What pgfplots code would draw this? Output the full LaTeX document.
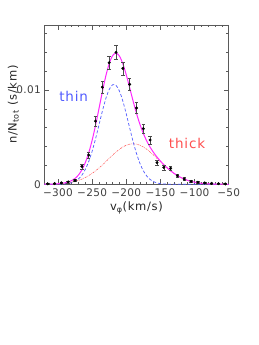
\documentclass[border=0pt]{standalone}
\usepackage{fontspec}
\setmainfont{DejaVu Sans}
\newfontfamily\labfont[LetterSpace=6]{DejaVu Sans}
\newfontfamily\tickfont[LetterSpace=3]{DejaVu Sans}
\usepackage{pgfplots}
\usepackage{pgfplotstable}
\pgfplotsset{compat=1.18}

\definecolor{magentaL}{RGB}{255,40,255}
\definecolor{thinblue}{RGB}{80,90,255}
\definecolor{thickred}{RGB}{255,80,80}
\definecolor{axisgray}{RGB}{90,90,90}

\pgfplotstableread{
x thin thick total
-320 0 0.000009 0.000009
-310 0.000001 0.0000224 0.0000234
-300 0.0000074 0.0000518 0.0000592
-290 0.000039 0.0001115 0.0001505
-285 0.000082 0.000159 0.000241
-280 0.000166 0.000223 0.000389
-275 0.000316 0.000307 0.000623
-270 0.000569 0.000415 0.000984
-265 0.000972 0.000551 0.001523
-260 0.001573 0.000718 0.002291
-255 0.00241 0.000919 0.003329
-250 0.003502 0.001155 0.004657
-245 0.004818 0.001425 0.006243
-240 0.00628 0.001726 0.008006
-235 0.007755 0.002052 0.009807
-230 0.00907 0.002397 0.011467
-225 0.010053 0.002749 0.012802
-220 0.010554 0.003095 0.013649
-215 0.010497 0.003422 0.013919
-210 0.009891 0.003716 0.013607
-205 0.008829 0.003961 0.01279
-200 0.007467 0.004146 0.011613
-195 0.005982 0.004261 0.010243
-190 0.00454 0.0043 0.00884
-185 0.003264 0.004261 0.007525
-180 0.002224 0.004146 0.00637
-175 0.001434 0.003961 0.005395
-170 0.000877 0.003716 0.004593
-165 0.000508 0.003422 0.00393
-160 0.000278 0.003095 0.003373
-155 0.000145 0.002749 0.002894
-150 0.0000713 0.002397 0.002468
-145 0.0000333 0.002052 0.002085
-140 0.0000147 0.001726 0.001741
-135 0.000006 0.001425 0.001431
-130 0.0000024 0.001155 0.001157
-125 0.0000009 0.000919 0.00092
-120 0 0.000718 0.000718
-115 0 0.000551 0.000551
-110 0 0.000415 0.000415
-105 0 0.000307 0.000307
-100 0 0.000223 0.000223
-90 0 0.0001115 0.0001115
-80 0 0.0000518 0.0000518
-70 0 0.0000224 0.0000224
-60 0 0.000009 0.000009
-50 0 0.0000034 0.0000034
}\curves

\pgfplotstableread{
x y e
-315 0.00005 0.00004
-305 0.00008 0.00006
-295 0.00015 0.00008
-285 0.00025 0.0001
-275 0.0004 0.00012
-265 0.0019 0.00027
-255 0.0031 0.00035
-245 0.0067 0.0005
-235 0.0103 0.00063
-225 0.0129 0.0007
-215 0.0140 0.00073
-205 0.0123 0.00069
-195 0.0106 0.00064
-185 0.0081 0.00056
-175 0.0059 0.00048
-165 0.0047 0.00043
-155 0.0023 0.0003
-145 0.0018 0.00026
-135 0.0017 0.00026
-125 0.0009 0.00019
-115 0.00056 0.00015
-105 0.0003 0.00011
-95 0.00021 0.00009
-85 0.00014 0.00007
-75 0.0001 0.00006
-65 0.00007 0.00005
-55 0.00004 0.00004
}\points

\begin{document}
\begin{tikzpicture}
\useasboundingbox (-44.3pt,-160.7pt) rectangle (214.7pt,184.3pt);
\begin{axis}[
  at={(0pt,0pt)}, anchor=south west,
  scale only axis, width=184.4pt, height=159.3pt,
  xmin=-320, xmax=-50, ymin=0, ymax=0.0169,
  xtick={-300,-250,-200,-150,-100,-50},
  xticklabels={−300,−250,−200,−150,−100,−50},
  minor x tick num=4,
  ytick={0,0.01}, yticklabels={0,0.01},
  minor ytick={0.002,0.004,0.006,0.008,0.012,0.014,0.016},
  scaled y ticks=false,
  tick align=inside,
  major tick length=5pt, minor tick length=2.5pt,
  axis line style={axisgray, line width=0.6pt},
  every tick/.style={axisgray, line width=0.5pt},
  ticklabel style={font=\tickfont\fontsize{10.5}{12}\selectfont, text=black!75},
  xticklabel style={yshift=-0.5pt},
  xlabel={v\textsubscript{φ}(km/s)},
  ylabel={n/N\textsubscript{tot}  (s/km)},
  label style={font=\labfont\fontsize{11.5}{13}\selectfont, text=black!85},
  xlabel style={at={(axis description cs:0.5,0)}, anchor=center, yshift=-23.5pt},
  ylabel style={at={(axis description cs:0,0.5)}, anchor=center, yshift=31pt},
  clip=true,
]
\addplot[thickred, line width=0.5pt, dash pattern=on 2pt off 1pt on 0.6pt off 1pt, smooth] table[x=x, y=thick] {\curves};
\addplot[thinblue, line width=0.7pt, dash pattern=on 3pt off 2pt, smooth] table[x=x, y=thin] {\curves};
\addplot[magentaL, line width=1pt, smooth] table[x=x, y=total] {\curves};
\addplot[only marks, mark=*, mark size=1.3pt, black,
  error bars/.cd, y dir=both, y explicit,
  error bar style={black!70, line width=0.5pt},
  error mark options={rotate=90, mark size=1.8pt, black!70, line width=0.5pt}]
  table[x=x, y=y, y error=e] {\points};
\node[text=thinblue, font=\labfont\fontsize{13.5}{16}\selectfont] at (axis cs:-277,0.0093) {thin};
\node[text=thickred, font=\labfont\fontsize{13.5}{16}\selectfont] at (axis cs:-111,0.0043) {thick};
\end{axis}
\end{tikzpicture}
\end{document}
